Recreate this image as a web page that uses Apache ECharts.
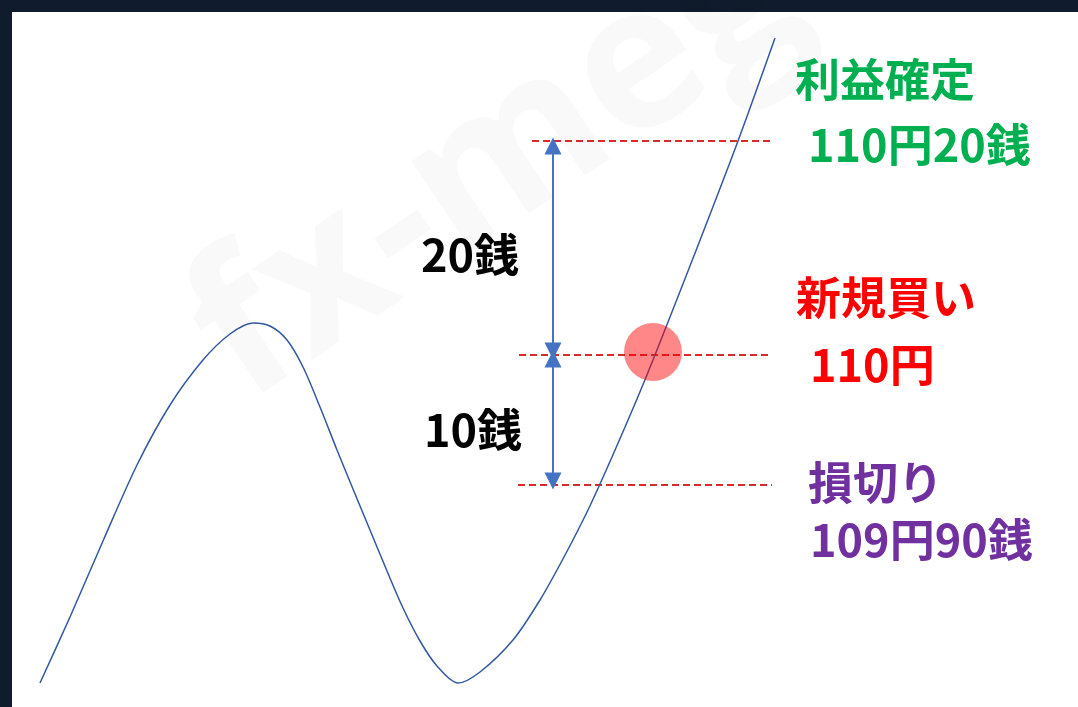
<!DOCTYPE html>
<html>
<head>
<meta charset="utf-8">
<script src="https://cdn.jsdelivr.net/npm/echarts@6/dist/echarts.min.js"></script>
<style>
html,body{margin:0;padding:0;background:#101b2d;}
#chart{width:1078px;height:707px;}
</style>
</head>
<body>
<div id="chart"></div>
<script>
// Price path (abstract time / level units)
const curveX = [28, 58, 91, 125, 158, 191, 218, 241, 258, 275, 291, 308, 325, 341, 358, 375, 391, 408, 425, 446, 468, 501, 528, 552, 576, 600, 625, 643, 685, 726, 763];
const curveY = [24, 90, 166, 242, 302, 347, 373, 384, 381, 367, 340, 300, 257, 218, 177, 136, 99, 66, 41, 24, 35, 67, 107, 150, 197, 250, 308, 352, 459, 566, 669];

// Horizontal levels: take profit, entry, stop loss
const levelNames = ['利益確定', '新規買い', '損切り'];
const levelPrices = ['110円20銭', '110円', '109円90銭'];
const levelY = [566, 352, 222];
const levelStartX = [520, 507, 506];
const levelEndX = 760;

// Distance arrows
const arrowX = 541;
const arrowSpans = [[356, 561], [348, 226]];
const arrowLabels = ['20銭', '10銭'];
const arrowLabelPos = [[458, 452], [461, 277]];

// Entry marker
const entryPoint = [641, 355];

// Text label anchor positions (level units)
const nameLabelPos = [[783, 627], [784, 409], [796, 224]];
const priceLabelPos = [[796, 562], [798, 342], [798, 167]];
const levelColors = ['#00b050', '#ff0000', '#7030a0'];

const chart = echarts.init(document.getElementById('chart'));
const FONT = '"Noto Sans CJK JP", "Noto Sans", sans-serif';

const curveData = curveX.map((x, i) => [x, curveY[i]]);
const dashData = levelY.map((y, i) => ({coords: [[levelStartX[i], y], [levelEndX, y]]}));
const arrowData = arrowSpans.map(s => ({coords: [[arrowX, s[0]], [arrowX, s[1]]]}));

const textData = [];
levelNames.forEach((t, i) => {
  textData.push({value: nameLabelPos[i], name: t, c: levelColors[i], align: 'left'});
  textData.push({value: priceLabelPos[i], name: levelPrices[i], c: levelColors[i], align: 'left'});
});
arrowLabels.forEach((t, i) => {
  textData.push({value: arrowLabelPos[i], name: t, c: '#000000', align: 'center'});
});

chart.setOption({
  backgroundColor: '#101b2d',
  animation: false,
  graphic: [{
    type: 'text',
    x: 270, y: 440,
    rotation: 34 * Math.PI / 180,
    z: 1,
    style: {
      text: 'fx-megu.com',
      font: 'bold 200px "Open Sans", sans-serif',
      fill: 'rgba(0,0,0,0.025)',
      align: 'left',
      verticalAlign: 'bottom'
    }
  }],
  grid: {left: 12, right: 0, top: 12, bottom: 0, show: true, backgroundColor: '#ffffff', borderWidth: 0},
  xAxis: {type: 'value', min: 0, max: 1066, show: false},
  yAxis: {type: 'value', min: 0, max: 695, show: false},
  series: [
    {
      type: 'lines', coordinateSystem: 'cartesian2d', z: 3,
      data: dashData,
      lineStyle: {color: '#d82a2a', width: 1.8, type: [7, 4], opacity: 1}
    },
    {
      type: 'lines', coordinateSystem: 'cartesian2d', z: 3,
      data: arrowData,
      symbol: ['triangle', 'triangle'], symbolSize: 17,
      lineStyle: {color: '#4472c4', width: 2, opacity: 1}
    },
    {
      type: 'line', z: 4,
      data: curveData,
      smooth: 0.3, showSymbol: false,
      lineStyle: {color: '#3458a0', width: 1.5}
    },
    {
      type: 'scatter', z: 5,
      data: [entryPoint],
      symbolSize: 58,
      itemStyle: {color: 'rgba(255,0,0,0.47)', opacity: 1}
    },
    {
      type: 'scatter', z: 6,
      symbolSize: 0,
      itemStyle: {opacity: 1},
      data: textData.map(d => ({
        value: d.value, name: d.name,
        label: {
          show: true, position: 'inside', formatter: d.name,
          color: d.c, align: d.align, verticalAlign: 'middle',
          fontFamily: FONT, fontWeight: 'bold', fontSize: 45
        }
      }))
    }
  ]
});
</script>
</body>
</html>
